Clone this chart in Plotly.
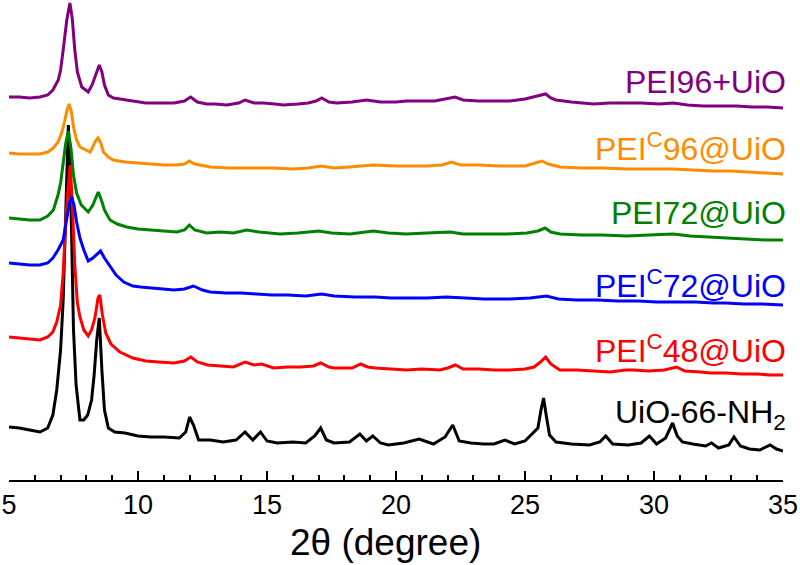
import plotly.graph_objects as go

# ---------------- data ----------------
# Each pattern: 2-theta positions and intensity (a.u., relative to its own right-end level)
x_uio = [5.0, 5.4, 5.8, 6.2, 6.5, 6.7, 6.85, 7.0, 7.1, 7.2, 7.3, 7.4, 7.5, 7.6, 7.75, 7.9, 8.05, 8.2, 8.3, 8.4,
         8.5, 8.6, 8.7, 8.85, 9.1, 9.5, 10.0, 10.5, 11.0, 11.6, 11.85, 12.0, 12.15, 12.35, 12.8, 13.3, 13.8, 14.15,
         14.45, 14.75, 15.0, 15.4, 16.0, 16.5, 16.85, 17.08, 17.3, 17.6, 18.2, 18.6, 18.85, 19.1, 19.4, 19.7, 20.3,
         20.9, 21.45, 21.9, 22.2, 22.45, 22.9, 23.4, 23.8, 24.22, 24.6, 25.0, 25.3, 25.5, 25.62, 25.72, 25.82, 25.95,
         26.2, 26.8, 27.5, 27.9, 28.13, 28.4, 29.0, 29.5, 29.82, 30.1, 30.45, 30.72, 30.9, 31.1, 31.5, 32.0, 32.23,
         32.5, 32.9, 33.1, 33.35, 33.7, 34.1, 34.5, 34.75, 35.0]
y_uio = [24, 23, 21, 19, 23, 36, 61, 101, 151, 231, 326, 251, 121, 66, 31, 31, 36, 51, 76, 111,
         133, 81, 41, 23, 19, 18, 15, 14, 14, 13, 19, 34, 26, 11, 11, 9, 11, 19,
         11, 19, 10, 8, 9, 8, 15, 23, 11, 8, 9, 17, 10, 15, 8, 6, 8,
         12, 7, 14, 26, 10, 8, 7, 7, 11, 7, 10, 18, 23, 41, 53, 36, 16,
         9, 7, 6, 9, 15, 7, 6, 8, 15, 7, 13, 28, 15, 9, 7, 5, 8,
         3, 6, 14, 5, 2, 1, 6, 2, 0]

x_c48 = [5.0, 5.4, 5.8, 6.2, 6.5, 6.7, 6.85, 7.0, 7.1, 7.2, 7.3, 7.37, 7.45, 7.55, 7.65, 7.75, 7.9, 8.07, 8.2, 8.33,
         8.45, 8.52, 8.62, 8.75, 8.95, 9.3, 9.8, 10.3, 10.8, 11.4, 11.8, 12.05, 12.3, 12.7, 13.2, 13.7, 14.15, 14.5,
         14.8, 15.25, 15.8, 16.3, 16.8, 17.08, 17.4, 17.6, 18.3, 18.63, 18.9, 19.2, 19.8, 20.4, 21.0, 21.7, 22.0,
         22.3, 22.6, 23.2, 23.8, 24.4, 25.0, 25.35, 25.6, 25.8, 26.0, 26.35, 27.0, 27.6, 28.3, 28.9, 29.2, 29.8,
         30.4, 30.87, 31.2, 31.8, 32.2, 32.8, 33.4, 34.0, 34.5, 35.0]
y_c48 = [38, 37, 36, 35, 38, 43, 53, 70, 102, 155, 190, 210, 175, 110, 72, 58, 45, 39, 45, 57,
         77, 80, 60, 42, 31, 23, 17, 14, 13, 12, 14, 18, 13, 10, 9, 8, 13, 10,
         11, 7, 8, 8, 9, 12, 8, 7, 7, 11, 8, 7, 6, 5, 6, 5, 7,
         10, 6, 6, 5, 5, 6, 8, 13, 18, 11, 5, 5, 4, 3, 5, 5, 4,
         5, 8, 4, 3, 2, 2, 1, 1, 0, 0]

x_c72 = [5.0, 5.4, 5.8, 6.2, 6.5, 6.7, 6.9, 7.1, 7.25, 7.35, 7.43, 7.52, 7.62, 7.75, 7.9, 8.07, 8.25, 8.4, 8.55, 8.7,
         8.9, 9.15, 9.45, 9.8, 10.1, 10.6, 11.0, 11.4, 11.8, 12.15, 12.5, 12.8, 13.4, 14.0, 14.6, 15.2, 15.8, 16.5,
         17.12, 17.6, 18.4, 19.2, 19.8, 20.4, 21.2, 21.96, 22.6, 23.4, 24.4, 25.2, 25.83, 26.3, 27.0, 27.8, 28.6,
         29.4, 30.1, 30.8, 31.6, 32.3, 32.8, 33.5, 34.2, 35.0]
y_c72 = [42, 41, 40, 40, 42, 47, 55, 65, 89, 103, 108, 100, 83, 67, 55, 44, 47, 51, 54, 47,
         39, 30, 23, 19, 18, 17, 16, 15, 16, 19, 15, 13, 12, 12, 11, 10, 10, 9,
         11, 9, 8, 8, 7, 7, 7, 8, 7, 6, 6, 7, 9, 6, 5, 5, 4,
         4, 3, 3, 3, 2, 2, 1, 1, 0]

x_p72 = [5.0, 5.4, 5.8, 6.2, 6.5, 6.72, 6.9, 7.0, 7.1, 7.2, 7.3, 7.4, 7.5, 7.62, 7.8, 8.07, 8.25, 8.35, 8.46, 8.58,
         8.7, 8.91, 9.2, 9.56, 10.0, 10.5, 11.0, 11.5, 11.8, 11.99, 12.2, 12.66, 13.2, 13.7, 14.21, 14.7, 15.5, 16.2,
         17.0, 17.5, 18.22, 19.12, 19.7, 20.4, 21.2, 22.1, 22.6, 23.5, 24.3, 25.07, 25.5, 25.78, 26.0, 26.36, 27.2,
         28.0, 28.94, 29.8, 30.75, 31.4, 32.2, 32.8, 33.6, 34.3, 35.0]
y_p72 = [22, 21, 20, 20, 24, 30, 45, 57, 75, 97, 109, 92, 65, 47, 35, 28, 35, 42, 48, 40,
         30, 20, 16, 13, 11, 10, 9, 8, 10, 15, 10, 7, 8, 7, 10, 8, 6, 7,
         9, 7, 6, 9, 7, 6, 7, 8, 6, 6, 6, 7, 9, 12, 8, 6, 5,
         5, 4, 5, 6, 4, 3, 2, 1, 0, 0]

x_c96 = [5.0, 5.4, 5.8, 6.2, 6.5, 6.72, 6.9, 7.04, 7.15, 7.25, 7.33, 7.42, 7.5, 7.62, 7.75, 7.95, 8.14, 8.25, 8.33, 8.45,
         8.56, 8.66, 8.85, 9.04, 9.5, 10.0, 10.5, 11.0, 11.5, 11.8, 11.99, 12.2, 12.8, 13.5, 14.2, 15.2, 16.0, 16.6,
         17.1, 17.6, 18.2, 19.1, 20.0, 20.4, 21.2, 21.8, 22.15, 22.5, 23.2, 24.0, 25.0, 25.4, 25.65, 25.9, 26.36,
         27.2, 28.0, 28.94, 30.0, 30.75, 31.5, 32.3, 33.0, 33.8, 34.5, 35.0]
y_c96 = [21, 20, 20, 20, 22, 26, 32, 41, 52, 64, 70, 62, 47, 34, 27, 24, 22, 27, 32, 36,
         31, 22, 17, 14, 12, 11, 10, 9, 9, 10, 13, 10, 7, 6, 6, 6, 5, 6,
         8, 6, 7, 9, 8, 8, 8, 9, 12, 9, 9, 8, 8, 11, 13, 10, 7,
         6, 6, 5, 5, 5, 4, 3, 3, 2, 1, 0]

x_p96 = [5.0, 5.4, 5.8, 6.2, 6.5, 6.7, 6.91, 7.0, 7.1, 7.24, 7.36, 7.45, 7.55, 7.65, 7.82, 8.07, 8.22, 8.33, 8.5, 8.6,
         8.7, 8.85, 9.05, 9.3, 9.8, 10.3, 10.8, 11.4, 11.8, 12.04, 12.3, 12.66, 13.0, 13.44, 13.9, 14.15, 14.5, 14.86,
         15.3, 15.64, 16.2, 16.6, 16.9, 17.12, 17.4, 17.7, 18.3, 18.86, 19.4, 20.0, 20.41, 21.0, 21.5, 21.9, 22.29,
         22.6, 23.2, 24.0, 24.42, 25.0, 25.33, 25.6, 25.8, 26.0, 26.2, 26.8, 27.65, 28.3, 28.94, 29.5, 30.2, 30.75,
         31.3, 31.9, 32.6, 33.2, 33.8, 34.4, 35.0]
y_p96 = [11, 11, 10, 11, 13, 18, 28, 38, 58, 88, 105, 90, 58, 36, 21, 16, 23, 31, 43, 36,
         23, 13, 10, 9, 7, 5, 5, 5, 7, 11, 6, 4, 4, 3, 5, 8, 5, 5,
         4, 3, 4, 5, 7, 10, 6, 5, 6, 8, 6, 6, 7, 7, 7, 9, 11,
         8, 7, 7, 7, 9, 11, 13, 14, 10, 8, 6, 4, 5, 5, 5, 4, 5,
         3, 2, 2, 2, 1, 1, 0]

names = ["UiO-66-NH<sub>2</sub>", "PEI<sup>C</sup>48@UiO", "PEI<sup>C</sup>72@UiO",
         "PEI72@UiO", "PEI<sup>C</sup>96@UiO", "PEI96+UiO"]
xs = [x_uio, x_c48, x_c72, x_p72, x_c96, x_p96]
ys = [y_uio, y_c48, y_c72, y_p72, y_c96, y_p96]
x_title = "2θ (degree)"

# ---------------- style / stacking ----------------
offsets = [29, 105, 175, 240, 306, 372]
colors = ["#000000", "#FF0000", "#0000FF", "#008000", "#FF8C00", "#800080"]
label_y = [66, 131, 196, 267, 333, 398]
FONT = "Arial, Liberation Sans, sans-serif"

fig = go.Figure()
for xv, yv, off, c, n in zip(xs, ys, offsets, colors, names):
    fig.add_trace(go.Scatter(x=xv, y=[v + off for v in yv], mode="lines",
                             line=dict(color=c, width=3), name=n, showlegend=False))

for n, c, ly in zip(names, colors, label_y):
    fig.add_annotation(x=1.006, xref="paper", y=ly, yref="y", text=n, showarrow=False,
                       xanchor="right", yanchor="middle",
                       font=dict(family=FONT, size=32, color=c))

# axis title (slightly left of centre, as in the original)
fig.add_annotation(x=0.486, xref="paper", y=-0.13, yref="paper", text=x_title, showarrow=False,
                   xanchor="center", yanchor="middle", font=dict(family=FONT, size=37, color="black"))

fig.update_layout(
    width=800, height=565,
    margin=dict(l=9, r=17, t=0, b=85),
    paper_bgcolor="white", plot_bgcolor="white",
    font=dict(family=FONT, color="black"),
    xaxis=dict(range=[5, 35], showline=True, linecolor="black", linewidth=1.5,
               ticks="inside", ticklen=9, tickwidth=1.5, tickcolor="black",
               tick0=5, dtick=5, showgrid=False, zeroline=False,
               tickfont=dict(size=27, color="black"),
               minor=dict(ticks="inside", ticklen=5, tickwidth=1.5, tickcolor="black", dtick=1, showgrid=False)),
    yaxis=dict(range=[0, 480], visible=False),
)

fig.write_html("out.html", post_script="document.body.style.margin='0';",
               config={"displayModeBar": False})
